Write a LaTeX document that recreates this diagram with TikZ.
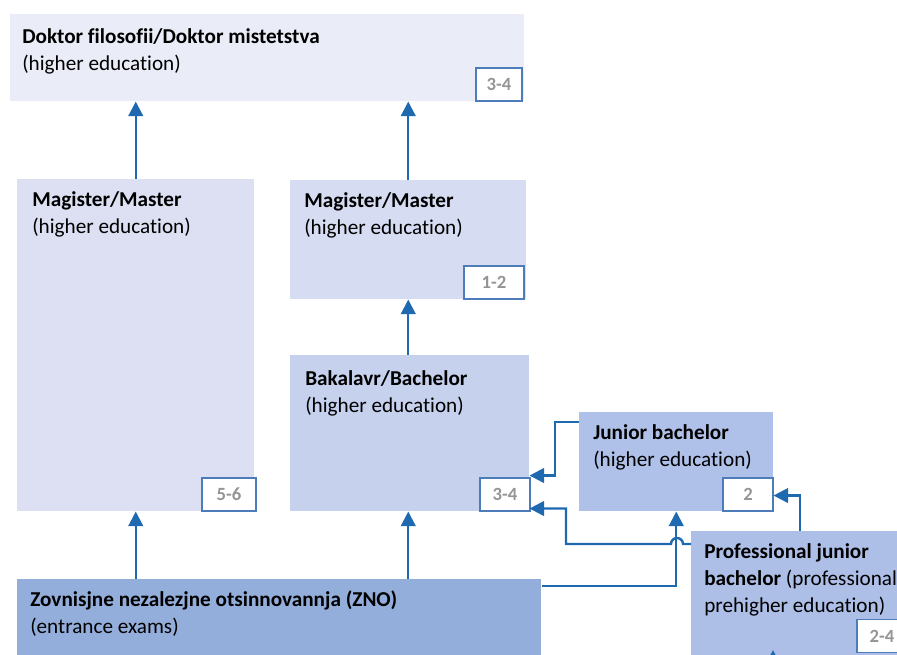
\documentclass[tikz,border=0pt]{standalone}
\usepackage{fontspec}
\setmainfont{Carlito}[Ligatures={CommonOff}]
\usetikzlibrary{arrows.meta}
\definecolor{cDok}{HTML}{EAEDF7}
\definecolor{cMagL}{HTML}{DCE0F2}
\definecolor{cMagM}{HTML}{D6DCF1}
\definecolor{cBak}{HTML}{C6D1EE}
\definecolor{cJun}{HTML}{AFC1E8}
\definecolor{cProf}{HTML}{ADBFE7}
\definecolor{cZno}{HTML}{94AEDB}
\definecolor{cArr}{HTML}{1F69B1}
\definecolor{cBadge}{HTML}{4D7DB8}
\definecolor{cBadgeTxt}{HTML}{959595}
\tikzset{
  box/.style={draw=none, rectangle, anchor=north west, inner sep=0pt},
  lbl/.style={anchor=base west, inner sep=0pt, align=left, font=\fontsize{15.9}{20.25}\selectfont},
  badge/.style={draw=cBadge, line width=1pt, fill=white, inner sep=0pt, minimum height=24.75pt,
    text=cBadgeTxt, font=\fontsize{14}{16}\selectfont\bfseries},
  arr/.style={draw=cArr, line width=1.8pt, -{Triangle[width=11pt,length=11pt]}},
  ln/.style={draw=cArr, line width=1.8pt}
}
\begin{document}
\begin{tikzpicture}[x=0.75pt,y=-0.75pt]
\useasboundingbox (0,0) rectangle (897,654);
\clip (0,0) rectangle (897,654);
% boxes
\node[box, fill=cDok, minimum width=385.5pt, minimum height=65.25pt] (dok) at (10,14) {};
\node[box, fill=cMagL, minimum width=177.75pt, minimum height=249pt] (magL) at (17,179) {};
\node[box, fill=cMagM, minimum width=177pt, minimum height=89.25pt] (magM) at (290,180) {};
\node[box, fill=cBak, minimum width=179.25pt, minimum height=117pt] (bak) at (290,355) {};
\node[box, fill=cJun, minimum width=145.5pt, minimum height=74.25pt] (jun) at (579,412) {};
\node[box, fill=cProf, minimum width=165pt, minimum height=97.5pt] (prof) at (691,531) {};
\node[box, fill=cZno, minimum width=393pt, minimum height=67.5pt] (zno) at (17,579) {};
% labels (anchor = baseline of last line)
\node[lbl] (tDok) at (22,70) {\textbf{Doktor filosofii/Doktor mistetstva}\\(higher education)};
\node[lbl] (tMagL) at (32,233) {\textbf{Magister/Master}\\(higher education)};
\node[lbl] (tMagM) at (304,234) {\textbf{Magister/Master}\\(higher education)};
\node[lbl] (tBak) at (305,412) {\textbf{Bakalavr/Bachelor}\\(higher education)};
\node[lbl] (tJun) at (593,466) {\textbf{Junior bachelor}\\(higher education)};
\node[lbl] (tProf) at (704,612) {\textbf{Professional junior}\\\textbf{bachelor} (professional\\prehigher education)};
\node[lbl] (tZno) at (30,633) {\textbf{Zovnisjne nezalezjne otsinnovannja (ZNO)}\\(entrance exams)};
% badges
\node[badge, minimum width=34.5pt] (bDok) at (499,84.5) {3-4};
\node[badge, minimum width=40.5pt] (bMagL) at (229,494.5) {5-6};
\node[badge, minimum width=45pt] (bMagM) at (494,282.5) {1-2};
\node[badge, minimum width=37.5pt] (bBak) at (505,494.5) {3-4};
\node[badge, minimum width=37.5pt] (bJun) at (748,494.5) {2};
\node[badge, minimum width=37.5pt] (bProf) at (882,636) {2-4};
% arrows
\draw[arr] (magL.north) -- (magL.north |- dok.south);
\draw[arr] (magM.north) -- (magM.north |- dok.south);
\draw[arr] (bak.north -| magM.north) -- (magM.south);
\draw[arr] (magL.south |- zno.north) -- (magL.south);
\draw[arr] (magM.south |- zno.north) -- (magM.south |- bak.south);
\draw[arr] ([shift={(0,7)}]zno.north east) -| (jun.south);
\draw[arr] ([shift={(0,10)}]jun.north west) -- ++(-24,0) |- ([shift={(0,-36)}]bak.south east);
\draw[arr] ([shift={(0,13)}]prof.north west) -- (683,544) arc (0:-180:6) -- (566,544) |- ([shift={(0,-3)}]bak.south east);
\draw[arr] ([shift={(109,0)}]prof.north west) |- ([shift={(0,-16)}]jun.south east);
\coordinate (below) at (773,666);
\draw[arr] (below) -- ++(0,-16);
\end{tikzpicture}
\end{document}
